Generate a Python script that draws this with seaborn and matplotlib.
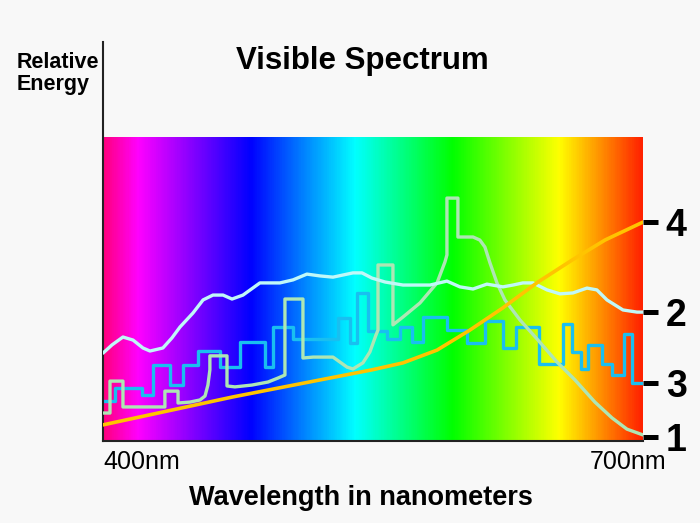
import numpy as np
import matplotlib
matplotlib.use('Agg')
import matplotlib.pyplot as plt
from matplotlib.colors import LinearSegmentedColormap, Normalize
import seaborn as sns

# rainbow background: wavelength stop -> colour
grad_nm = [400, 418.9, 481.7, 540.0, 594.4, 653.9, 700]
grad_col = ['#ff0080', '#ff00ff', '#0000ff', '#00ffff', '#00ff00', '#ffff00', '#ff2200']

# curve 1 (pale green)
c1_nm = [400, 403.9, 403.9, 411.1, 411.1, 434.4, 434.4, 441.7, 441.7, 448.3, 453.9, 456.7,
         458.3, 459.4, 459.4, 468.9, 468.9, 473.3, 482.8, 491.7, 497.2, 501.1, 501.1, 511.1,
         511.1, 516.7, 527.8, 535.6, 538.9, 544.4, 548.3, 551.7, 552.8, 552.8, 561.1, 561.1,
         566.7, 576.1, 585.6, 590.0, 591.1, 591.1, 597.2, 597.2, 605.6, 609.4, 612.2, 615.0,
         618.9, 623.3, 631.7, 641.7, 652.2, 662.2, 673.3, 682.8, 691.1, 700]
c1_e = [9.2, 9.2, 19.7, 19.7, 11.2, 11.2, 16.4, 16.4, 12.5, 12.8, 13.5, 14.8,
        18.4, 23.4, 28.0, 28.0, 18.1, 17.8, 18.4, 19.4, 20.7, 21.7, 46.7, 46.7,
        27.3, 27.6, 27.6, 24.3, 23.7, 25.7, 29.3, 34.9, 36.5, 57.9, 57.9, 38.2,
        40.8, 45.4, 52.0, 58.9, 61.2, 79.9, 79.9, 67.1, 67.1, 66.1, 63.8, 58.6,
        52.0, 46.4, 39.8, 33.2, 26.0, 20.1, 12.8, 7.6, 3.9, 2.0]

# curve 2 (pale cyan)
c2_nm = [400, 405, 411.1, 416.7, 422.2, 426.1, 433.3, 438.3, 442.8, 450, 455.6, 461.1,
         466.7, 471.7, 477.8, 487.2, 498.3, 505.6, 513.3, 520.6, 527.8, 538.9, 543.9, 549.4,
         556.7, 566.7, 581.7, 591.1, 598.3, 605.6, 613.3, 622.2, 627.8, 633.3, 638.9, 646.7,
         653.9, 661.1, 668.9, 674.4, 680, 688.9, 696.7, 700]
c2_e = [28.9, 31.6, 34.2, 33.2, 30.6, 29.6, 30.6, 33.9, 37.5, 42.1, 46.4, 48.0,
        48.0, 46.7, 48.0, 52.0, 52.0, 53.0, 54.9, 54.3, 53.9, 55.3, 55.3, 53.6,
        52.3, 51.3, 51.3, 52.6, 50.7, 50.0, 51.6, 50.7, 51.3, 52.0, 52.0, 49.7,
        48.4, 48.7, 50.3, 49.7, 46.4, 43.1, 42.4, 42.4]

# curve 3 (blue, stepped): bin edges and levels
c3_edges = [400, 406.7, 421.7, 427.8, 437.2, 444.4, 452.8, 465, 476.1, 490, 494.4, 505.6,
            530.6, 537.2, 541.1, 547.2, 557.8, 565, 571.7, 577.8, 591.1, 602.2, 612.2, 622.2,
            629.4, 642.2, 655.6, 660.6, 665.6, 669.4, 677.2, 682.8, 689.4, 693.9, 700]
c3_levels = [13.2, 17.4, 15.1, 25.0, 18.4, 25.0, 29.6, 24.3, 32.6, 24.3, 37.5, 33.6,
             40.5, 32.2, 48.7, 36.2, 33.6, 37.5, 32.6, 40.8, 36.5, 32.2, 39.5, 30.6,
             37.5, 25.3, 38.5, 29.3, 23.7, 31.6, 25.3, 21.7, 35.2, 19.1]

# curve 4 (orange)
c4_nm = [400, 436.1, 472.2, 509.4, 549.4, 566.7, 585.6, 603.9, 622.2, 641.7, 660.6, 678.9, 700]
c4_e = [5.3, 9.9, 14.5, 18.8, 23.4, 25.7, 29.9, 36.5, 43.8, 52.3, 59.5, 66.1, 72.0]

tick_pos = [1.3, 42.4, 19.1, 72.0]
tick_lab = ['1', '2', '3', '4']

sns.set_theme(style='white')
plt.rcParams['font.family'] = ['Liberation Sans', 'DejaVu Sans']
plt.rcParams['text.color'] = 'black'
bg = '#f8f8f8'

fig = plt.figure(figsize=(7, 5.23), dpi=100, facecolor=bg)
ax = fig.add_axes([0.1471, 0.1568, 0.7714, 0.7629], facecolor=bg)

pos = [(v - 400) / 300 for v in grad_nm]
cmap = LinearSegmentedColormap.from_list('spec', list(zip(pos, grad_col)))
ax.imshow(np.linspace(400, 700, 600)[None, :], cmap=cmap, norm=Normalize(400, 700),
          extent=[400, 700, 0, 100], aspect='auto', zorder=0, interpolation='bilinear')

sns.lineplot(x=c3_edges, y=c3_levels + [c3_levels[-1]], drawstyle='steps-post',
             estimator=None, sort=False, color='#19bff0', linewidth=2.4, ax=ax, zorder=2)
sns.lineplot(x=c1_nm, y=c1_e, estimator=None, sort=False, color='#aee6b4',
             linewidth=2.4, ax=ax, zorder=3)
sns.lineplot(x=c2_nm, y=c2_e, estimator=None, sort=False, color='#c0f8f8',
             linewidth=2.4, ax=ax, zorder=4)
sns.lineplot(x=c4_nm, y=c4_e, estimator=None, sort=False, color='#ffc400',
             linewidth=2.6, ax=ax, zorder=5)

ax.set_xlim(400, 700)
ax.set_ylim(0, 131.25)
ax.set_xticks([])
ax.yaxis.tick_right()
ax.set_yticks(tick_pos)
ax.set_yticklabels(tick_lab, fontsize=27, fontweight='bold', color='black')
ax.tick_params(axis='y', direction='out', length=10.5, width=3.6, color='black', pad=6)
ax.set_xlabel('')
ax.set_ylabel('')
for s in ['top', 'right']:
    ax.spines[s].set_visible(False)
for s in ['left', 'bottom']:
    ax.spines[s].set_color('#222222')
    ax.spines[s].set_linewidth(1.5)

fig.text(0.517, 0.883, 'Visible Spectrum', ha='center', va='center',
         fontsize=22.5, fontweight='bold', color='black')
fig.text(0.024, 0.90, 'Relative\nEnergy', ha='left', va='top',
         fontsize=15.5, fontweight='bold', linespacing=1.05, color='black')
fig.text(0.516, 0.048, 'Wavelength in nanometers', ha='center', va='center',
         fontsize=19.5, fontweight='bold', color='black')
ax.text(400.5, -3, '400nm', ha='left', va='top', fontsize=18, color='black',
        clip_on=False)
ax.text(692, -3, '700nm', ha='center', va='top', fontsize=18, color='black',
        clip_on=False)

fig.savefig('out.png', dpi=100, facecolor=bg)
